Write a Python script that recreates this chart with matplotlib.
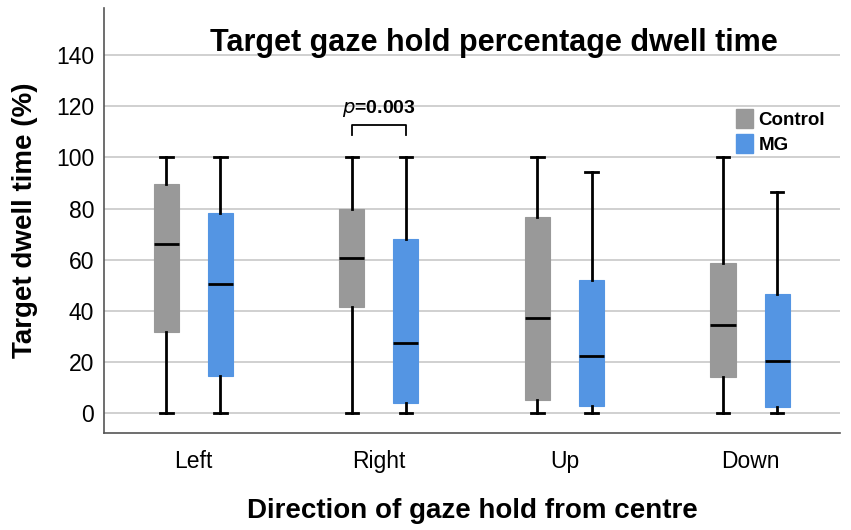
import numpy as np
import matplotlib
matplotlib.use("Agg")
import matplotlib.pyplot as plt
from matplotlib.patches import Patch

plt.rcParams['font.family'] = ['Liberation Sans', 'DejaVu Sans']

# --- data ---
directions = ["Left", "Right", "Up", "Down"]
groups = ["Control", "MG"]
colours = {"Control": "#999999", "MG": "#5495e3"}

# per group: whisker low, Q1, median, Q3, whisker high
ctrl_lo = [0, 0, 0, 0]
ctrl_q1 = [31.7, 41.5, 4.9, 14.0]
ctrl_med = [66.0, 60.7, 37.2, 34.3]
ctrl_q3 = [89.5, 79.7, 76.5, 58.8]
ctrl_hi = [100, 100, 100, 100]

mg_lo = [0, 0, 0, 0]
mg_q1 = [14.4, 3.6, 2.7, 2.3]
mg_med = [50.3, 27.1, 22.2, 20.3]
mg_q3 = [78.1, 68.0, 52.0, 46.5]
mg_hi = [100, 100, 94.4, 86.6]

p_label = "0.003"
p_index = 1  # Right

stats = {
    "Control": (ctrl_lo, ctrl_q1, ctrl_med, ctrl_q3, ctrl_hi),
    "MG": (mg_lo, mg_q1, mg_med, mg_q3, mg_hi),
}

# --- figure ---
fig = plt.figure(figsize=(8.51, 5.30), dpi=100)
ax = fig.add_axes([104/851, 97/530, (840-104)/851, (433-8)/530])

offset = 0.1456
width = 0.135
for k, g in enumerate(groups):
    lo, q1, med, q3, hi = stats[g]
    bxp = []
    for i in range(len(directions)):
        bxp.append(dict(whislo=lo[i], q1=q1[i], med=med[i], q3=q3[i], whishi=hi[i], fliers=[]))
    pos = np.arange(len(directions)) + (k*2-1)*offset
    ax.bxp(bxp, positions=pos, widths=width, patch_artist=True, showfliers=False,
           boxprops=dict(facecolor=colours[g], edgecolor=colours[g], linewidth=0.8),
           medianprops=dict(color='black', linewidth=2),
           whiskerprops=dict(color='black', linewidth=2),
           capprops=dict(color='black', linewidth=2),
           capwidths=width*0.5, zorder=3)

# significance bracket
x1 = p_index - offset
x2 = p_index + offset
ax.plot([x1, x1, x2, x2], [108.8, 112.6, 112.6, 108.8], color='black', lw=1.3, zorder=4)
ax.text(p_index, 115, r"$\bf{\it{p}}$" + "=" + p_label, ha='center', va='bottom',
        fontsize=14, fontweight='bold')

ax.set_xlim(-0.482, 3.485)
ax.set_ylim(-8, 158.6)
ax.set_xticks(np.arange(len(directions)))
ax.set_xticklabels(directions)
ax.set_yticks(np.arange(0, 141, 20))
ax.yaxis.grid(True, color='#c8c8c8', linewidth=1.2)
ax.set_axisbelow(True)
ax.tick_params(axis='both', length=0, labelsize=16.5, pad=7)
ax.tick_params(axis='x', pad=12)
for s in ['top', 'right']:
    ax.spines[s].set_visible(False)
for s in ['left', 'bottom']:
    ax.spines[s].set_color('#555555')
    ax.spines[s].set_linewidth(1.2)

ax.set_title("Target gaze hold percentage dwell time", fontsize=22, fontweight='bold',
             y=0.88, x=0.53)
ax.set_ylabel("Target dwell time (%)", fontsize=20, fontweight='bold', labelpad=13)
ax.set_xlabel("Direction of gaze hold from centre", fontsize=20, fontweight='bold', labelpad=18)

handles = [Patch(facecolor=colours[g], edgecolor=colours[g], label=g) for g in groups]
leg = ax.legend(handles=handles, loc='upper right', bbox_to_anchor=(0.99, 0.78),
                frameon=False, prop=dict(size=13.5, weight='bold'),
                handlelength=0.9, handleheight=1.2, handletextpad=0.3, labelspacing=0.25,
                borderaxespad=0)

fig.savefig("out.png", dpi=100)
